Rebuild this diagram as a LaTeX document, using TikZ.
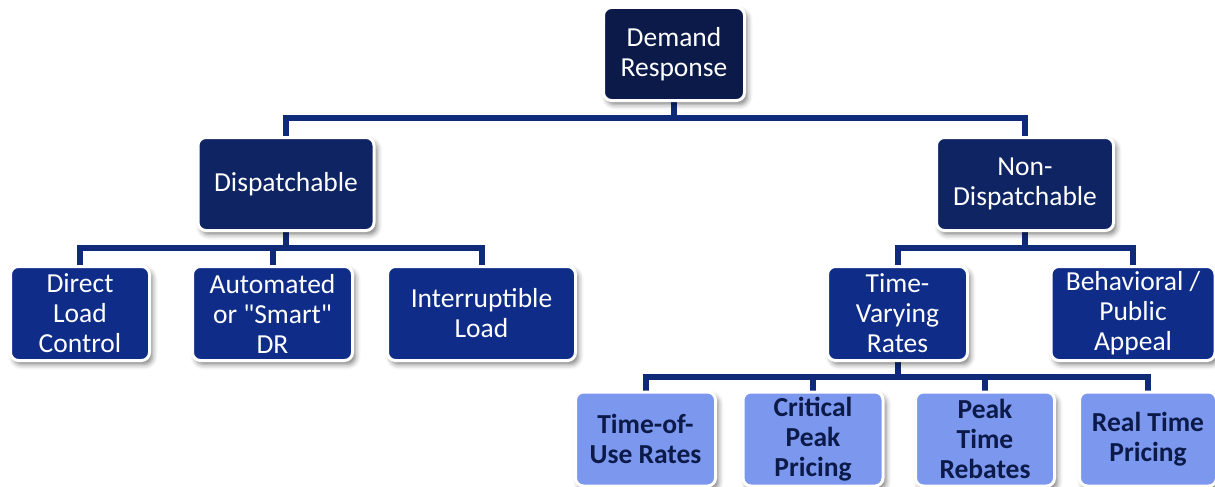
\documentclass[tikz,border=0pt]{standalone}
\usepackage{fontspec}
\setmainfont{Carlito}[Ligatures=TeXOff]
\usetikzlibrary{shadows.blur,backgrounds}
\definecolor{topc}{HTML}{0B1A48}
\definecolor{midc}{HTML}{0E2463}
\definecolor{lowc}{HTML}{0F2D88}
\definecolor{leafc}{HTML}{7C97EE}
\definecolor{linec}{HTML}{0E2A78}
\tikzset{
  box/.style={rectangle, rounded corners=8pt, draw=white, line width=3pt,
    inner sep=0pt, align=center, text=white,
    font=\fontsize{27.5}{30}\selectfont,
    blur shadow={shadow xshift=3pt, shadow yshift=-4pt, shadow blur radius=5pt, shadow opacity=50}},
  topbox/.style={box, fill=topc},
  midbox/.style={box, fill=midc},
  lowbox/.style={box, fill=lowc},
  leafbox/.style={box, fill=leafc, text=topc, font=\fontsize{27.5}{30}\selectfont\bfseries},
  conn/.style={draw=linec, line width=6pt}
}
\begin{document}
\begin{tikzpicture}[x=1pt,y=-1pt]
\useasboundingbox (0,0) rectangle (1215,487);
% level 1
\node[topbox, minimum width=141pt, minimum height=93pt] (dr) at (674,54) {Demand\\Response};
% level 2
\node[midbox, minimum width=176pt, minimum height=93pt] (disp) at (286,184) {Dispatchable};
\node[midbox, minimum width=177pt, minimum height=93pt] (nondisp) at (1025,184) {Non-\\Dispatchable};
% level 3
\node[lowbox, minimum width=139pt, minimum height=94pt] (dlc) at (80,313.5) {Direct\\Load\\Control};
\node[lowbox, minimum width=160pt, minimum height=94pt] (auto) at (272.5,313.5) {Automated\\or "Smart"\\DR};
\node[lowbox, minimum width=188pt, minimum height=94pt] (intr) at (481.5,313.5) {Interruptible\\Load};
\node[lowbox, minimum width=140pt, minimum height=94pt] (tvr) at (897.5,313.5) {Time-\\Varying\\Rates};
\node[lowbox, minimum width=164pt, minimum height=94pt] (beh) at (1133,313.5) {Behavioral /\\Public\\Appeal};
% level 4
\node[leafbox, minimum width=140pt, minimum height=94pt] (tou) at (645.5,439) {Time-of-\\Use Rates};
\node[leafbox, minimum width=140pt, minimum height=94pt] (cpp) at (813,439) {Critical\\Peak\\Pricing};
\node[leafbox, minimum width=139pt, minimum height=94pt] (ptr) at (985,439) {Peak\\Time\\Rebates};
\node[leafbox, minimum width=137pt, minimum height=94pt] (rtp) at (1148,439) {Real Time\\Pricing};
\coordinate (b1) at (0,118);
\coordinate (b2) at (0,248);
\coordinate (b3) at (0,377);
\begin{scope}[on background layer]
\draw[conn] (dr.south) -- (dr.south |- b1);
\draw[conn] (disp.north) -- (disp.north |- b1) -- (nondisp.north |- b1) -- (nondisp.north);
\draw[conn] (disp.south) -- (disp.south |- b2);
\draw[conn] (dlc.north) -- (dlc.north |- b2) -- (intr.north |- b2) -- (intr.north);
\draw[conn] (auto.north) -- (auto.north |- b2);
\draw[conn] (nondisp.south) -- (nondisp.south |- b2);
\draw[conn] (tvr.north) -- (tvr.north |- b2) -- (beh.north |- b2) -- (beh.north);
\draw[conn] (tvr.south) -- (tvr.south |- b3);
\draw[conn] (tou.north) -- (tou.north |- b3) -- (rtp.north |- b3) -- (rtp.north);
\draw[conn] (cpp.north) -- (cpp.north |- b3);
\draw[conn] (ptr.north) -- (ptr.north |- b3);
\end{scope}
\end{tikzpicture}
\end{document}
